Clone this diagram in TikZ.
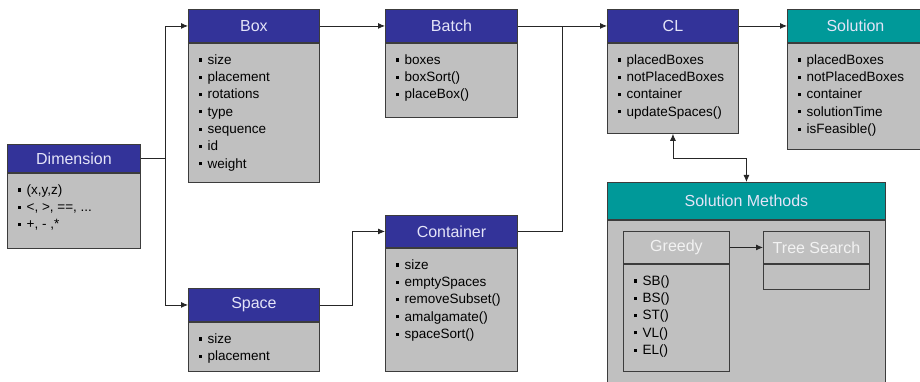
\documentclass[tikz,border=0pt]{standalone}
\usepackage{fontspec}
\setmainfont{Liberation Sans}
\usetikzlibrary{arrows.meta,calc}

\definecolor{hdrblue}{RGB}{51,51,153}
\definecolor{hdrteal}{RGB}{0,153,153}
\definecolor{bodygray}{RGB}{192,192,192}
\definecolor{edgegray}{RGB}{60,60,60}
\definecolor{hdrtext}{RGB}{228,228,248}

\newcommand{\bul}{\rule[2.8pt]{3.2pt}{3.2pt}\hspace{5.5pt}}
\newcommand{\members}[3]{\parbox[t][#1][t]{#2}{\leftskip=10.5pt\rule{0pt}{21pt}#3}}

\tikzset{
  hdr/.style={draw=edgegray, line width=0.9pt, fill=hdrblue, text=hdrtext, anchor=north west,
              inner sep=0pt, font=\fontsize{16}{18}\selectfont},
  tealhdr/.style={hdr, fill=hdrteal},
  subhdr/.style={hdr, fill=bodygray, text=white!95!black},
  attrs/.style={draw=edgegray, line width=0.9pt, fill=bodygray, anchor=north, inner sep=0pt,
                font=\fontsize{13.5}{17.3}\selectfont},
  link/.style={draw=black!85, line width=0.8pt, -{Latex[length=7pt,width=6pt]}},
  wire/.style={draw=black!85, line width=0.8pt},
}

\begin{document}
\begin{tikzpicture}[x=1pt,y=-1pt]
            \useasboundingbox (0,0) rectangle (920,382);

            % classes
            \node[hdr, minimum width=133pt, minimum height=28pt] (dimH) at (7,144) {Dimension};
            \node[attrs] (dimB) at (dimH.south) {\members{75pt}{133pt}{\bul (x,y,z)\\ \bul <, >, ==, ...\\ \bul +, - ,*}};

            \node[hdr, minimum width=131pt, minimum height=33pt] (boxH) at (188,9) {Box};
            \node[attrs] (boxB) at (boxH.south) {\members{139pt}{131pt}{\bul size\\ \bul placement\\ \bul rotations\\ \bul type\\ \bul sequence\\ \bul id\\ \bul weight}};

            \node[hdr, minimum width=132pt, minimum height=33pt] (batchH) at (385,9) {Batch};
            \node[attrs] (batchB) at (batchH.south) {\members{74pt}{132pt}{\bul boxes\\ \bul boxSort()\\ \bul placeBox()}};

            \node[hdr, minimum width=131pt, minimum height=33pt] (clH) at (607,9) {CL};
            \node[attrs] (clB) at (clH.south) {\members{90pt}{131pt}{\bul placedBoxes\\ \bul notPlacedBoxes\\ \bul container\\ \bul updateSpaces()}};

            \node[tealhdr, minimum width=136pt, minimum height=33pt] (solH) at (787,9) {Solution};
            \node[attrs] (solB) at (solH.south) {\members{106pt}{136pt}{\bul placedBoxes\\ \bul notPlacedBoxes\\ \bul container\\ \bul solutionTime\\ \bul isFeasible()}};

            \node[hdr, minimum width=131pt, minimum height=33pt] (spaceH) at (188,288) {Space};
            \node[attrs] (spaceB) at (spaceH.south) {\members{49pt}{131pt}{\bul size\\ \bul placement}};

            \node[hdr, minimum width=132pt, minimum height=32pt] (contH) at (385,215) {Container};
            \node[attrs] (contB) at (contH.south) {\members{123pt}{132pt}{\bul size\\ \bul emptySpaces\\ \bul removeSubset()\\ \bul amalgamate()\\ \bul spaceSort()}};

            % solution methods
            \node[tealhdr, minimum width=278pt, minimum height=37pt] (smH) at (607,182) {Solution Methods};
            \node[attrs] (smB) at (smH.south) {\members{200pt}{278pt}{}};

            \node[subhdr, minimum width=106pt, minimum height=32pt] (greedyH) at (623,231) {Greedy};
            \node[attrs] (greedyB) at (greedyH.south) {\members{107pt}{106pt}{\bul SB()\\ \bul BS()\\ \bul ST()\\ \bul VL()\\ \bul EL()}};

            \node[subhdr, minimum width=106pt, minimum height=32pt] (treeH) at (763,231) {Tree Search};
            \node[attrs] (treeB) at (treeH.south) {\members{25pt}{106pt}{}};

            % connectors
            \coordinate (join) at ($(batchH.east)!.5!(clH.west)$);

            \draw[link] (dimH.east) -- ++(24,0) |- (boxH.west);
            \draw[link] (dimH.east) -- ++(24,0) |- (spaceH.west);
            \draw[link] (boxH.east) -- (batchH.west);
            \draw[link] (batchH.east) -- (clH.west);
            \draw[link] (spaceH.east) -- ++(32,0) |- (contH.west);
            \draw[wire] (contH.east) -| (join);
            \draw[link] (clH.east) -- (solH.west);
            \draw[link, {Latex[length=7pt,width=6pt]}-{Latex[length=7pt,width=6pt]}] (clB.south) -- ++(0,25) -| (smH.north);
            \draw[link] (greedyH.east) -- (treeH.west);
        \end{tikzpicture}
\end{document}
